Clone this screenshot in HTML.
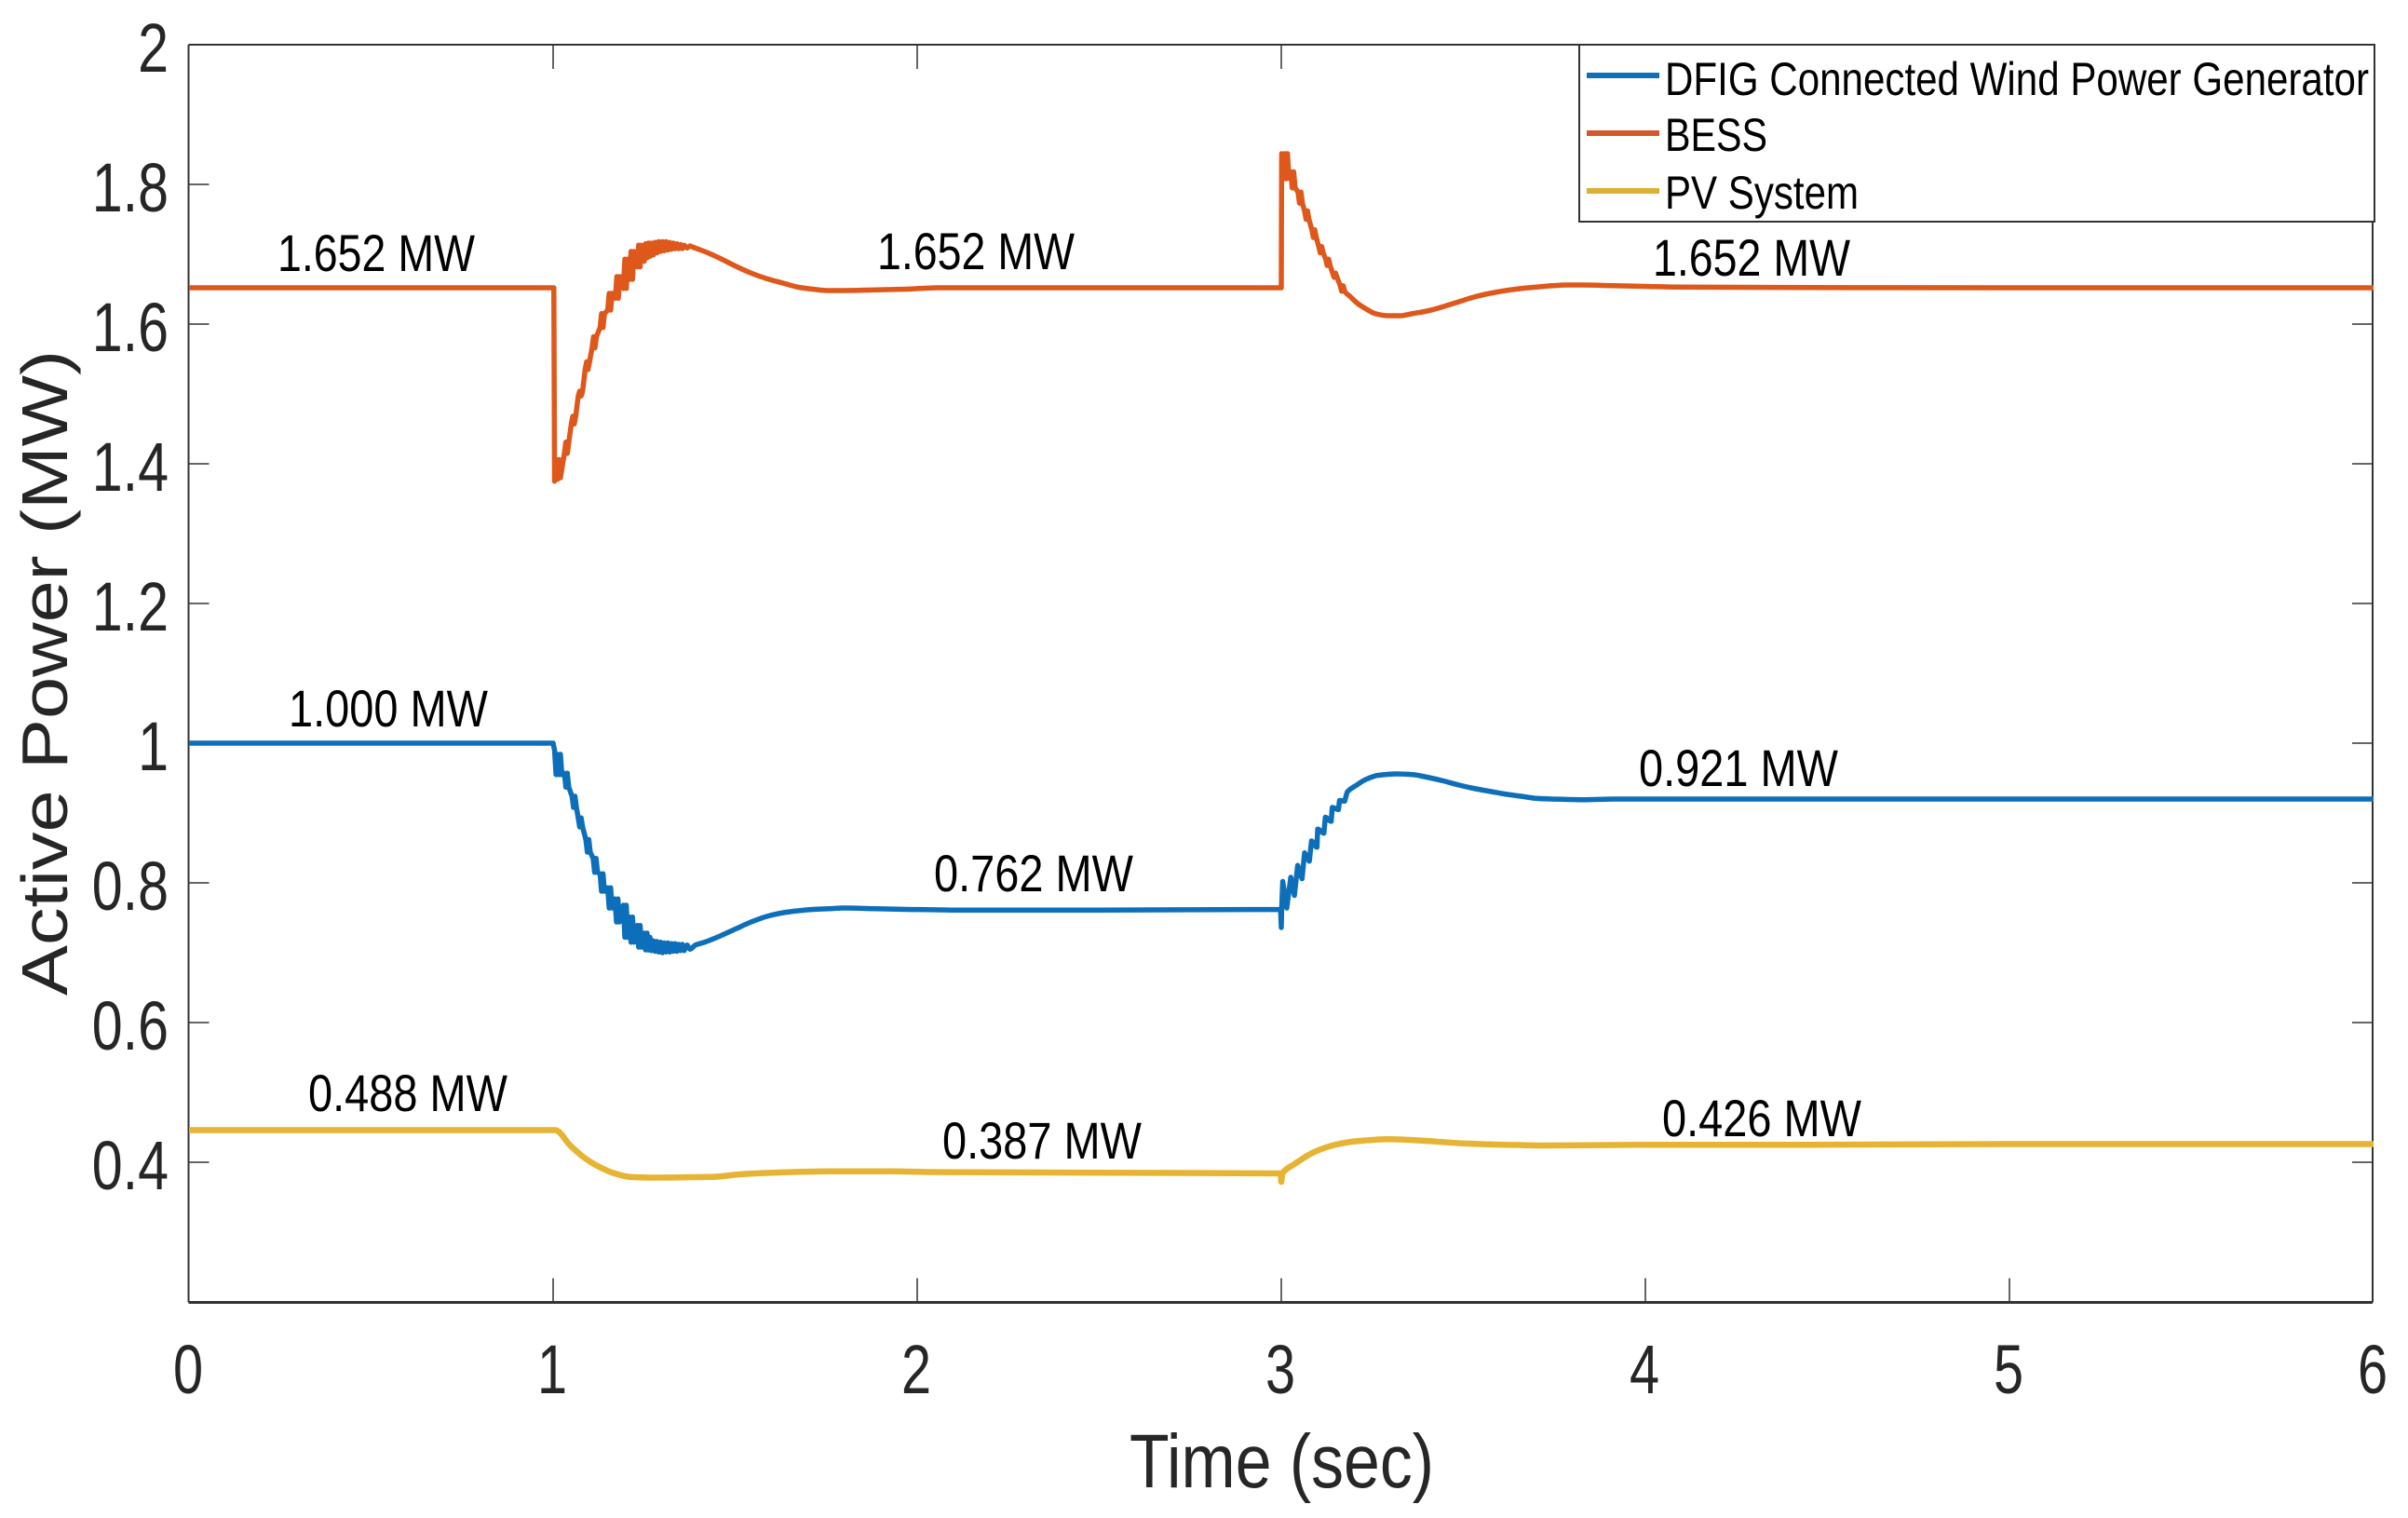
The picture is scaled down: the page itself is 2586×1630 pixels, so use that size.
<!DOCTYPE html>
<html lang="en">
<head>
<meta charset="utf-8">
<title>Active Power vs Time</title>
<style>
html,body{margin:0;padding:0;background:#fff;width:2586px;height:1630px;overflow:hidden}
svg{display:block;font-family:"Liberation Sans",Arial,sans-serif}
</style>
</head>
<body>
<svg id="chart" xmlns="http://www.w3.org/2000/svg" width="2586" height="1630" viewBox="0 0 2586 1630">
  <rect x="0" y="0" width="2586" height="1630" fill="#ffffff"/>
  <g id="axes"></g>
  <g id="series"></g>

  <g font-size="56" fill="#000">
    <text x="298" y="291" textLength="212" lengthAdjust="spacingAndGlyphs">1.652 MW</text>
    <text x="942" y="289" textLength="212" lengthAdjust="spacingAndGlyphs">1.652 MW</text>
    <text x="1775" y="296" textLength="212" lengthAdjust="spacingAndGlyphs">1.652 MW</text>
    <text x="310" y="780" textLength="214" lengthAdjust="spacingAndGlyphs">1.000 MW</text>
    <text x="1003" y="957" textLength="214" lengthAdjust="spacingAndGlyphs">0.762 MW</text>
    <text x="1760" y="844" textLength="214" lengthAdjust="spacingAndGlyphs">0.921 MW</text>
    <text x="331" y="1193" textLength="214" lengthAdjust="spacingAndGlyphs">0.488 MW</text>
    <text x="1012" y="1244" textLength="214" lengthAdjust="spacingAndGlyphs">0.387 MW</text>
    <text x="1785" y="1220" textLength="214" lengthAdjust="spacingAndGlyphs">0.426 MW</text>
  </g>

  <text x="1213" y="1597" font-size="82" fill="#262626" textLength="327" lengthAdjust="spacingAndGlyphs">Time (sec)</text>
  <text transform="translate(72,1069) rotate(-90)" x="0" y="0" font-size="70" fill="#262626" textLength="693" lengthAdjust="spacingAndGlyphs">Active Power (MW)</text>

  <g>
    <rect x="1696" y="48" width="854" height="190" fill="#ffffff" stroke="#333333" stroke-width="2"/>
    <line x1="1704" y1="81" x2="1782" y2="81" stroke="#0f6fb8" stroke-width="6"/>
    <line x1="1704" y1="143" x2="1782" y2="143" stroke="#d2582a" stroke-width="6"/>
    <line x1="1704" y1="205" x2="1782" y2="205" stroke="#dcb030" stroke-width="6"/>
    <text x="1788" y="102" font-size="50" fill="#000" textLength="756" lengthAdjust="spacingAndGlyphs">DFIG Connected Wind Power Generator</text>
    <text x="1788" y="162" font-size="50" fill="#000" textLength="110" lengthAdjust="spacingAndGlyphs">BESS</text>
    <text x="1788" y="224" font-size="50" fill="#000" textLength="208" lengthAdjust="spacingAndGlyphs">PV System</text>
  </g>
</svg>

<script>
const xTicks = [0, 1, 2, 3, 4, 5, 6];
const xTickLabels = ["0", "1", "2", "3", "4", "5", "6"];
const yTicks = [0.4, 0.6, 0.8, 1.0, 1.2, 1.4, 1.6, 1.8, 2.0];
const yTickLabels = ["0.4", "0.6", "0.8", "1", "1.2", "1.4", "1.6", "1.8", "2"];

const windTime = [0,0.5,1.000,1.004,1.008,1.012,1.016,1.020,1.024,
  1.031,1.035,1.039,1.043, 1.052,1.056,1.060,1.064, 1.069,1.073,1.077,1.081, 1.090,1.094,1.098,1.102,
  1.110,1.114,1.118,1.122, 1.129,1.133,1.137,1.141, 1.150,1.154,1.158,1.162, 1.170,1.174,1.178,1.182,
  1.193,1.197,1.201,1.205, 1.210,1.214,1.218,1.222, 1.231,1.235,1.239,1.243, 1.250,1.254,1.258,1.262,1.266,
  1.270,1.275,1.280,1.285,1.290,1.295,1.300,1.305,1.310,1.315,1.320,1.325,1.330,1.335,1.340,1.345,1.350,1.355,1.360,1.368,1.376,
  1.391,1.416,1.459,1.501,1.544,1.587,1.629,1.672,1.714,1.757,1.800,1.885,1.970,2.141,2.5,2.998,3.000,3.001,3.004,3.015,3.026,3.036,3.045,3.057,3.064,3.077,3.083,3.098,3.100,3.117,3.121,3.137,3.140,3.157,3.160,3.174,3.181,3.207,3.232,3.266,3.318,3.360,3.403,3.445,3.488,3.531,3.573,3.616,3.659,3.701,3.744,3.829,3.914,4.085,5,6];
const windPower = [1.000,1.000,1.000,0.990,0.955,0.984,0.955,0.984,0.955,
  0.957,0.937,0.957,0.937, 0.924,0.908,0.924,0.908, 0.893,0.880,0.893,0.880, 0.862,0.844,0.862,0.844,
  0.835,0.815,0.835,0.815, 0.813,0.788,0.813,0.788, 0.793,0.764,0.793,0.764, 0.777,0.744,0.777,0.744,
  0.768,0.722,0.768,0.722, 0.751,0.715,0.751,0.715, 0.739,0.708,0.739,0.708, 0.728,0.704,0.728,0.704,0.722,
  0.703,0.717,0.702,0.716,0.701,0.715,0.700,0.714,0.701,0.714,0.701,0.713,0.702,0.713,0.702,0.712,0.703,0.712,0.703,0.711,0.705,
  0.711,0.715,0.724,0.734,0.744,0.752,0.757,0.760,0.762,0.763,0.764,0.763,0.762,0.761,0.761,0.762,0.736,0.762,0.802,0.764,0.808,0.782,0.825,0.806,0.843,0.831,0.860,0.851,0.877,0.871,0.894,0.888,0.908,0.905,0.918,0.917,0.930,0.940,0.948,0.954,0.956,0.955,0.951,0.946,0.940,0.935,0.931,0.927,0.924,0.921,0.920,0.919,0.920,0.920,0.920,0.920];

const bessTime = [0,0.5,1.000,1.002,1.004,1.008,1.012,1.016,1.020,
  1.031,1.035,1.039,1.043, 1.050,1.054,1.058,1.062, 1.069,1.073,1.077,1.081, 1.088,1.092,1.096,1.100,
  1.107,1.111,1.115,1.119, 1.129,1.133,1.137,1.141, 1.150,1.154,1.158,1.162, 1.171,1.175,1.179,1.183,
  1.193,1.197,1.201,1.205, 1.210,1.214,1.218,1.222, 1.231,1.235,1.239,1.243,
  1.250,1.254,1.258,1.262,1.266,1.270,1.275,1.280,1.285,1.290,1.295,1.300,1.305,1.310,1.315,1.320,1.325,1.330,1.335,1.340,1.345,1.350,1.355,1.360,1.368,1.376,1.385,1.395,
  1.416,1.459,1.501,1.544,1.587,1.629,1.672,1.714,1.757,1.800,1.885,1.970,2.056,2.5,2.998,3.000,3.001,
  3.005,3.009,3.013,3.017,3.021, 3.026,3.030,3.034,3.038, 3.046,3.050,3.054,3.058, 3.064,3.068,3.072,3.076,
  3.084,3.088,3.092,3.096, 3.103,3.107,3.111,3.115, 3.122,3.126,3.130,3.134, 3.141,3.145,3.149,3.153, 3.162,3.166,3.170,3.174,
  3.190,3.211,3.232,3.258,3.292,3.326,3.360,3.403,3.445,3.488,3.531,3.573,3.616,3.659,3.701,3.744,3.786,3.829,3.914,3.999,4.085,5,6];
const bessPower = [1.652,1.652,1.652,1.652,1.375,1.406,1.378,1.406,1.380,
  1.415,1.431,1.415,1.431, 1.457,1.468,1.457,1.468, 1.497,1.504,1.497,1.504, 1.535,1.546,1.535,1.546,
  1.566,1.582,1.566,1.582, 1.595,1.615,1.595,1.615, 1.620,1.644,1.620,1.644, 1.637,1.668,1.637,1.668,
  1.651,1.693,1.651,1.693, 1.664,1.704,1.664,1.704, 1.682,1.713,1.682,1.713,
  1.690,1.715,1.695,1.716,1.697,1.716,1.699,1.717,1.702,1.718,1.704,1.718,1.705,1.718,1.706,1.717,1.707,1.716,1.708,1.715,1.708,1.714,1.708,1.713,1.709,1.712,1.710,1.708,
  1.704,1.694,1.683,1.673,1.665,1.659,1.653,1.650,1.648,1.648,1.649,1.650,1.652,1.652,1.652,1.652,1.844,
  1.808,1.844,1.808,1.844,1.809, 1.818,1.795,1.818,1.795, 1.789,1.773,1.789,1.773, 1.762,1.750,1.762,1.750,
  1.735,1.724,1.735,1.724, 1.711,1.702,1.711,1.702, 1.693,1.684,1.693,1.684, 1.673,1.667,1.673,1.667, 1.655,1.647,1.655,1.647,
  1.639,1.629,1.622,1.615,1.612,1.612,1.615,1.619,1.625,1.632,1.639,1.644,1.648,1.651,1.653,1.655,1.656,1.656,1.655,1.654,1.653,1.652,1.652];

const pvTime = [0,0.5,1.006,1.047,1.087,1.128,1.169,1.210,1.275,1.438,1.520,1.602,1.765,1.928,2.038,2.5,2.998,3.000,3.003,3.035,3.092,3.148,3.204,3.296,3.386,3.499,3.613,3.726,3.997,4.449,5.036,6];
const pvPower = [0.446,0.446,0.446,0.424,0.406,0.393,0.384,0.379,0.378,0.379,0.383,0.385,0.387,0.387,0.386,0.385,0.384,0.372,0.384,0.397,0.415,0.425,0.430,0.433,0.431,0.427,0.425,0.424,0.425,0.425,0.426,0.426];

const SVG_NS = "http://www.w3.org/2000/svg";
const plotLeft = 202.5, plotRight = 2548, plotTop = 48, plotBottom = 1398.5;
const tickSpanLeft = 203, tickSpanRight = 2549, tickTop = 48, tickBottom = 1398;
const xMin = 0, xMax = 6, yMin = 0.2, yMax = 2;
function xScale(t) { return tickSpanLeft + (t - xMin) / (xMax - xMin) * (tickSpanRight - tickSpanLeft); }
function yScale(v) { return tickBottom - (v - yMin) / (yMax - yMin) * (tickBottom - tickTop); }

function svgEl(tag, attrs) {
  const el = document.createElementNS(SVG_NS, tag);
  for (const k in attrs) el.setAttribute(k, attrs[k]);
  return el;
}

const axes = document.getElementById("axes");
const axisColor = "#333333";

const frameTop = svgEl("line", {x1: plotLeft, y1: plotTop, x2: plotRight, y2: plotTop, stroke: axisColor, "stroke-width": 2});


axes.appendChild(frameTop);
const frameRight = svgEl("line", {x1: plotRight, y1: plotTop, x2: plotRight, y2: plotBottom, stroke: axisColor, "stroke-width": 2});


axes.appendChild(frameRight);
const frameLeft = svgEl("line", {x1: plotLeft, y1: plotTop, x2: plotLeft, y2: plotBottom, stroke: axisColor, "stroke-width": 2});


axes.appendChild(frameLeft);
const frameBottom = svgEl("line", {x1: plotLeft, y1: plotBottom, x2: plotRight, y2: plotBottom, stroke: axisColor, "stroke-width": 3});


axes.appendChild(frameBottom);

xTicks.forEach(function (t, i) {
  const x = xScale(t);
  if (t > xMin && t < xMax) {
    const low = svgEl("line", {x1: x, y1: plotBottom, x2: x, y2: plotBottom - 26, stroke: axisColor, "stroke-width": 1.5});
    
    
    axes.appendChild(low);
    const high = svgEl("line", {x1: x, y1: plotTop, x2: x, y2: plotTop + 26, stroke: axisColor, "stroke-width": 1.5});
    
    
    axes.appendChild(high);
  }
  const label = svgEl("text", {transform: "translate(" + (x - 1) + ",1496) scale(0.78,1)", "text-anchor": "middle", "font-size": 74, fill: "#262626"});
  
  
  label.textContent = xTickLabels[i];
  axes.appendChild(label);
});

yTicks.forEach(function (v, i) {
  const y = yScale(v);
  if (v < yMax) {
    const left = svgEl("line", {x1: plotLeft, y1: y, x2: plotLeft + 22, y2: y, stroke: axisColor, "stroke-width": 1.5});
    
    
    axes.appendChild(left);
    const right = svgEl("line", {x1: plotRight, y1: y, x2: plotRight - 22, y2: y, stroke: axisColor, "stroke-width": 1.5});
    
    
    axes.appendChild(right);
  }
  const label = svgEl("text", {transform: "translate(181," + (y + 29) + ") scale(0.8,1)", "text-anchor": "end", "font-size": 74, fill: "#262626"});
  
  
  label.textContent = yTickLabels[i];
  axes.appendChild(label);
});

// Straight segments through the closely spaced ripple samples; monotone cubic
// through the sparser samples so that the slow recovery stays smooth.
function pathFor(times, values) {
  const n = times.length;
  const px = times.map(xScale);
  const py = values.map(yScale);
  const slopes = [];
  for (let i = 0; i < n - 1; i++) slopes.push((py[i + 1] - py[i]) / (px[i + 1] - px[i]));
  const tangents = [slopes[0]];
  for (let i = 1; i < n - 1; i++) {
    const a = slopes[i - 1], b = slopes[i];
    tangents.push(a * b <= 0 ? 0 : 2 * a * b / (a + b));
  }
  tangents.push(slopes[n - 2]);
  let d = "M" + px[0].toFixed(2) + " " + py[0].toFixed(2);
  for (let i = 0; i < n - 1; i++) {
    if (times[i + 1] - times[i] < 0.014) {
      d += "L" + px[i + 1].toFixed(2) + " " + py[i + 1].toFixed(2);
    } else {
      const h = (px[i + 1] - px[i]) / 3;
      d += "C" + (px[i] + h).toFixed(2) + " " + (py[i] + tangents[i] * h).toFixed(2) + " " +
           (px[i + 1] - h).toFixed(2) + " " + (py[i + 1] - tangents[i + 1] * h).toFixed(2) + " " +
           px[i + 1].toFixed(2) + " " + py[i + 1].toFixed(2);
    }
  }
  return d;
}

const seriesGroup = document.getElementById("series");

const windLine = svgEl("path", {d: pathFor(windTime, windPower), fill: "none", stroke: "#0d6fb9", "stroke-width": 5.5, "stroke-linejoin": "round"});


seriesGroup.appendChild(windLine);

const bessLine = svgEl("path", {d: pathFor(bessTime, bessPower), fill: "none", stroke: "#de581c", "stroke-width": 5.5, "stroke-linejoin": "round"});


seriesGroup.appendChild(bessLine);

const pvLine = svgEl("path", {d: pathFor(pvTime, pvPower), fill: "none", stroke: "#e6b333", "stroke-width": 6.5, "stroke-linejoin": "round"});


seriesGroup.appendChild(pvLine);
</script>
</body>
</html>
